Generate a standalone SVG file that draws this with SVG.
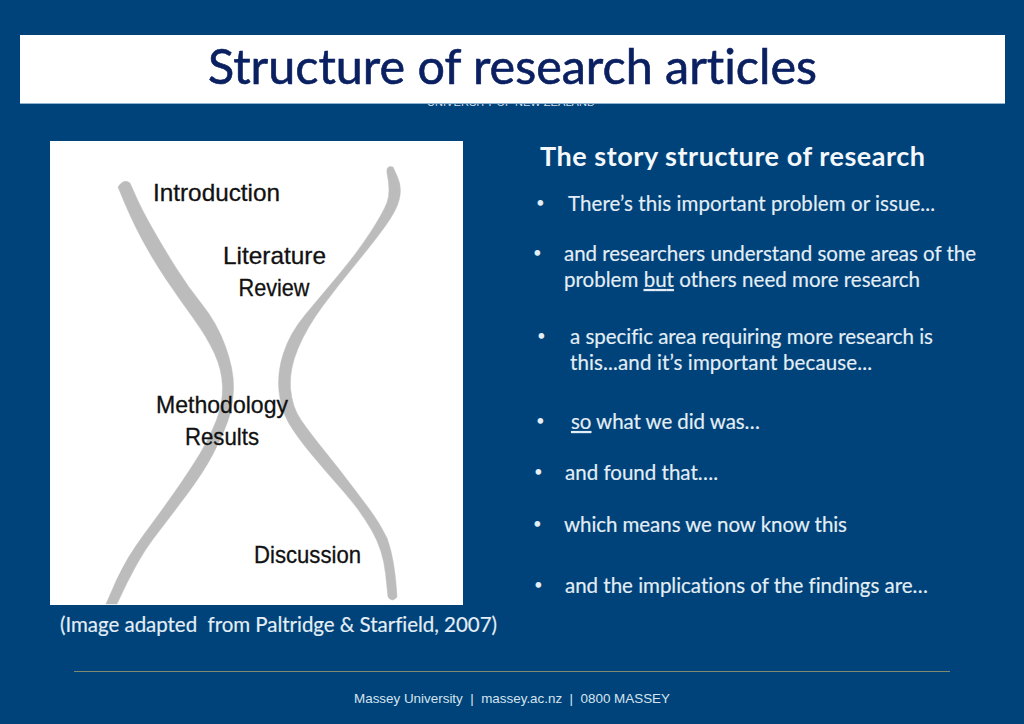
<svg xmlns="http://www.w3.org/2000/svg" width="1024" height="724" viewBox="0 0 1024 724">
<style>
text{font-variant-ligatures:none;white-space:pre}
.b{font-family:Lato,"Open Sans",sans-serif;font-size:20.5px;fill:#e4eef6;stroke:#e4eef6;stroke-width:.15}
.d{font-family:Lato,"Open Sans",sans-serif;font-size:15px;fill:#e4eef6}
.h{font-family:"Liberation Sans",Arial,sans-serif;font-size:24px;fill:#111;stroke:#111;stroke-width:.3}
.c{fill:#bcbcbc;stroke:#bcbcbc;stroke-width:.5;stroke-linejoin:round}
</style>
<rect width="1024" height="724" fill="#00437a"/>
<text x="511" y="106" text-anchor="middle" font-family="Liberation Sans,sans-serif" font-size="10" fill="#cfdde9" textLength="168" lengthAdjust="spacingAndGlyphs">UNIVERSITY OF NEW ZEALAND</text>
<g id="title">
<rect x="20" y="35" width="985" height="68" fill="#fff"/>
<rect x="20" y="103" width="985" height="1" fill="#8fb3cf"/>
<text x="512.500" y="84" text-anchor="middle" font-family="Lato,sans-serif" font-size="49px" fill="#0a2061" stroke="#0a2061" stroke-width=".6" textLength="609" lengthAdjust="spacingAndGlyphs">Structure of research articles</text>
</g>
<g id="figure">
<rect x="50" y="141" width="413" height="464" fill="#fff"/>
<g id="connectors">
<path class="c" d="M118 187Q130 217 141.500 238.500Q153 260 166.500 280Q180 300 193.500 318.500Q207 337 214.500 353.500Q222 370 222.500 386.500Q223 403 216.500 420Q210 437 200 453.500Q190 470 175 491.500Q160 513 143.500 535Q127 557 116.500 580L106 604L117 604Q137 560 153.500 538.500Q170 517 186.500 495Q203 473 212.500 455Q222 437 227.500 422Q233 407 233.500 388.500Q234 370 225.500 346.500Q217 323 202.500 305Q188 287 175.500 267Q163 247 152.500 228.500Q142 210 136 196.500L130 183Q124 178 118 187Z"/>
<path class="c" d="M387 173Q391 192 387 202.500Q383 213 370 233Q357 253 338.500 275Q320 297 305 315Q290 333 283.500 353Q277 373 279 391.500Q281 410 289 423.500Q297 437 312 455Q327 473 343.500 491.500Q360 510 371.500 530Q383 550 385.500 573.500L388 597Q392 603 397 597Q395 560 387 538Q379 522 370 510L355 490Q340 470 325 451.500Q310 433 301 420Q292 407 290.500 388.500Q289 370 298 348.500Q307 327 323.500 305Q340 283 356.500 263Q373 243 385 226.500Q397 210 399.500 198.500Q402 187 397.500 177L393 167Q386 165 387 173Z"/>
</g>
<g id="node-introduction"><text class="h" x="153" y="201" textLength="127" lengthAdjust="spacingAndGlyphs">Introduction</text></g>
<g id="node-literature-review">
<text class="h" x="274.500" y="264" text-anchor="middle" textLength="103" lengthAdjust="spacingAndGlyphs">Literature</text>
<text class="h" x="274" y="296" text-anchor="middle" textLength="71" lengthAdjust="spacingAndGlyphs">Review</text>
</g>
<g id="node-methodology-results">
<text class="h" x="222" y="413" text-anchor="middle" textLength="132" lengthAdjust="spacingAndGlyphs">Methodology</text>
<text class="h" x="222" y="445" text-anchor="middle" textLength="74" lengthAdjust="spacingAndGlyphs">Results</text>
</g>
<g id="node-discussion"><text class="h" x="254" y="563" textLength="107" lengthAdjust="spacingAndGlyphs">Discussion</text></g>
</g>
<text class="b" x="60" y="632" textLength="437">(Image adapted  from Paltridge &amp; Starfield, 2007)</text>
<g id="story">
<text x="540" y="166" font-family="Lato,sans-serif" font-weight="700" font-size="27px" fill="#f4f8fb" textLength="385">The story structure of research</text>
<text class="d" x="536" y="208">•</text><text class="b" x="568" y="211" textLength="367">There’s this important problem or issue...</text>
<text class="d" x="533" y="258">•</text><text class="b" x="564" y="261" textLength="412">and researchers understand some areas of the</text>
<text class="b" x="564" y="287" textLength="356">problem <tspan text-decoration="underline">but</tspan> others need more research</text>
<text class="d" x="537" y="341">•</text><text class="b" x="570" y="344" textLength="363">a specific area requiring more research is</text>
<text class="b" x="570" y="370" textLength="302">this...and it’s important because...</text>
<text class="d" x="536" y="426">•</text><text class="b" x="571" y="429" textLength="189"><tspan text-decoration="underline">so</tspan> what we did was…</text>
<text class="d" x="534" y="477">•</text><text class="b" x="565" y="480" textLength="153">and found that….</text>
<text class="d" x="533" y="529">•</text><text class="b" x="564" y="532" textLength="283">which means we now know this</text>
<text class="d" x="534" y="590">•</text><text class="b" x="565" y="593" textLength="363">and the implications of the findings are…</text>
</g>
<g id="footer">
<rect x="74" y="671" width="876" height="1" fill="#7f8a70"/>
<text x="512" y="703" text-anchor="middle" font-family="Liberation Sans,sans-serif" font-size="13.500px" fill="#d5e3ef" textLength="316" lengthAdjust="spacingAndGlyphs">Massey University  |  massey.ac.nz  |  0800 MASSEY</text>
</g>
</svg>
